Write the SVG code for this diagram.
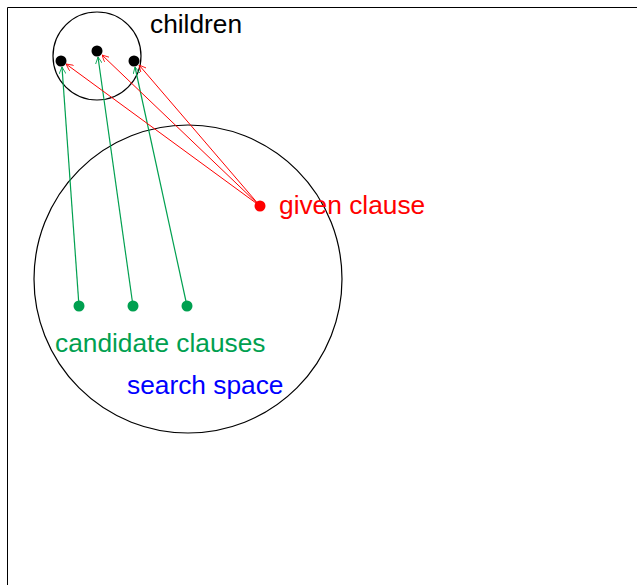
<svg xmlns="http://www.w3.org/2000/svg" width="637" height="585" viewBox="0 0 637 585">
<style>
text{font-family:"Liberation Sans",Arial,sans-serif;font-size:26.3px}
.g{stroke:#00a050;fill:none;stroke-width:1.2}
.r{stroke:#ff0000;fill:none;stroke-width:1}
</style>
<defs>
<marker id="ag" viewBox="0 0 10 10" refX="10" refY="5" markerWidth="7" markerHeight="7" orient="auto" markerUnits="userSpaceOnUse"><path d="M0,0 L10,5 L0,10" fill="none" stroke="#00a050" stroke-width="1.2"/></marker>
<marker id="ar" viewBox="0 0 10 10" refX="10" refY="5" markerWidth="7" markerHeight="7" orient="auto" markerUnits="userSpaceOnUse"><path d="M0,0 L10,5 L0,10" fill="none" stroke="#ff0000" stroke-width="1.2"/></marker>
</defs>
<rect width="637" height="585" fill="#fff"/>
<path d="M7.5,585 V7.5 H637" fill="none" stroke="#000" stroke-width="1"/>
<g id="search-space"><circle cx="188" cy="279" r="154" fill="none" stroke="#000" stroke-width="1.2"/><text x="127" y="394" fill="#0000ff">search space</text></g>
<g id="children"><circle cx="97" cy="56" r="44" fill="none" stroke="#000" stroke-width="1.2"/><circle cx="61" cy="61" r="5.5"/><circle cx="97" cy="51" r="5.5"/><circle cx="134" cy="61" r="5.5"/><text x="150" y="33" fill="#000">children</text></g>
<g id="given-clause"><circle cx="260" cy="206" r="5.5" fill="#ff0000"/><text x="279" y="214" fill="#ff0000">given clause</text></g>
<g id="candidate-clauses"><circle cx="79" cy="306" r="5.5" fill="#00a050"/><circle cx="133" cy="306" r="5.5" fill="#00a050"/><circle cx="187" cy="306" r="5.5" fill="#00a050"/><text x="55" y="352" fill="#00a050">candidate clauses</text></g>
<g id="connectors">
<line class="g" x1="79" y1="306" x2="62" y2="67" marker-end="url(#ag)"/>
<line class="g" x1="133" y1="306" x2="98" y2="57" marker-end="url(#ag)"/>
<line class="g" x1="187" y1="306" x2="135" y2="67" marker-end="url(#ag)"/>
<line class="r" x1="260" y1="206" x2="66" y2="64" marker-end="url(#ar)"/>
<line class="r" x1="260" y1="206" x2="102" y2="55" marker-end="url(#ar)"/>
<line class="r" x1="260" y1="206" x2="139" y2="65" marker-end="url(#ar)"/>
</g>
</svg>
